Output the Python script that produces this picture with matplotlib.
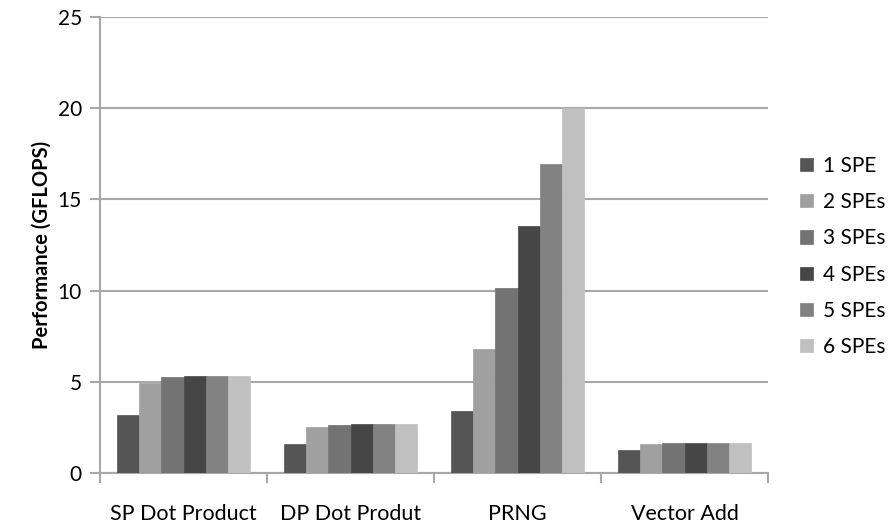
import matplotlib
matplotlib.use('Agg')
import matplotlib.pyplot as plt
import numpy as np

plt.rcParams['font.family'] = ['Lato', 'DejaVu Sans']

categories = ['SP Dot Product', 'DP Dot Produt', 'PRNG', 'Vector Add']
series_names = ['1 SPE', '2 SPEs', '3 SPEs', '4 SPEs', '5 SPEs', '6 SPEs']
values = [
    [3.2, 1.6, 3.4, 1.25],   # 1 SPE
    [4.95, 2.5, 6.8, 1.6],   # 2 SPEs
    [5.25, 2.65, 10.15, 1.65],  # 3 SPEs
    [5.33, 2.7, 13.55, 1.66],   # 4 SPEs
    [5.33, 2.7, 16.95, 1.65],   # 5 SPEs
    [5.3, 2.68, 20.0, 1.63],    # 6 SPEs
]
colors = ['#555555', '#a0a0a0', '#737373', '#464646', '#828282', '#c0c0c0']

fig = plt.figure(figsize=(8.91, 5.27), dpi=100)
ax = fig.add_axes([100 / 891, 1 - 473 / 527, 668 / 891, 456 / 527])

n = len(series_names)
width = 0.8 / n
x = np.arange(len(categories))
for i, (name, vals, c) in enumerate(zip(series_names, values, colors)):
    ax.bar(x - 0.4 + width * (i + 0.5), vals, width, color=c, label=name,
           zorder=3, edgecolor=c, linewidth=0.5)

ax.set_xlim(-0.5, len(categories) - 0.5)
ax.set_ylim(0, 25)
ax.set_yticks(np.arange(0, 26, 5))
ax.yaxis.grid(True, color='#a8a8a8', linewidth=1.5, zorder=0)
ax.set_xticks(x)
ax.set_xticklabels(categories, fontsize=15.5)
ax.tick_params(axis='x', length=0, pad=22)
ax.set_xticks(np.arange(-0.5, len(categories)), minor=True)
ax.tick_params(axis='x', which='minor', length=7, color='#a8a8a8', width=1.5)
ax.tick_params(axis='y', length=7, color='#a8a8a8', width=1.5, labelsize=15, pad=6)

for side in ['top', 'right']:
    ax.spines[side].set_visible(False)
for side in ['left', 'bottom']:
    ax.spines[side].set_color('#a8a8a8')
    ax.spines[side].set_linewidth(1.5)

ax.set_ylabel('Performance (GFLOPS)', fontsize=14.5, fontweight='bold', labelpad=4)

ax.legend(loc='center left', bbox_to_anchor=(1.02, 0.475), frameon=False,
          fontsize=15, handlelength=0.6, handleheight=0.6, handletextpad=0.5,
          labelspacing=0.78)

fig.savefig('out.png', dpi=100)
